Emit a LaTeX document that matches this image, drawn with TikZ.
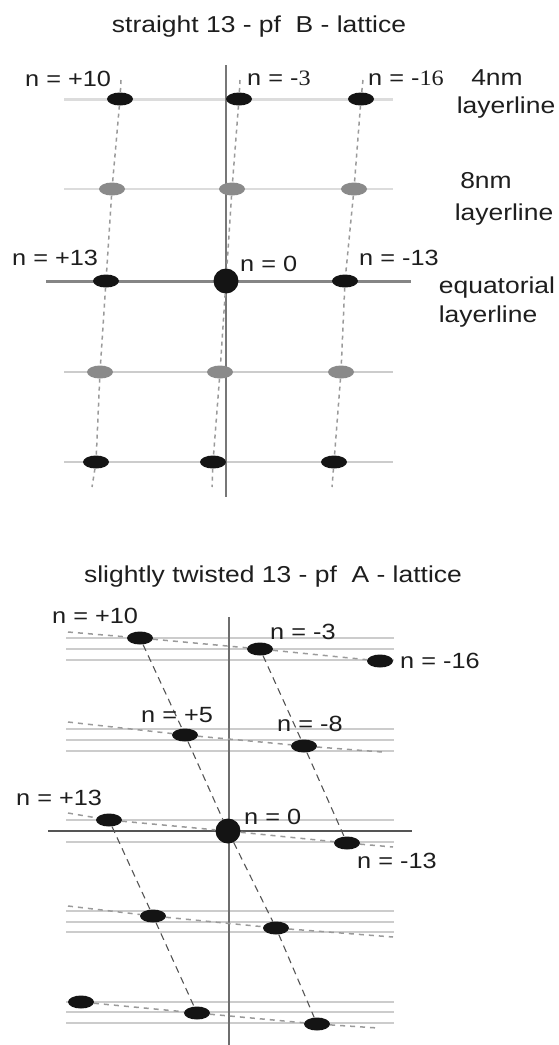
\documentclass[tikz,border=0pt]{standalone}
\usepackage{fontspec}
\setmainfont[FakeStretch=1.15]{Liberation Sans}
\newfontfamily\serifdig[FakeStretch=1.1]{Liberation Serif}
\usetikzlibrary{shapes.geometric}
\definecolor{txt}{HTML}{1E1E1E}
\definecolor{dotgrey}{HTML}{8A8A8A}
\definecolor{lightline}{HTML}{DCDCDC}
\definecolor{thinline}{HTML}{CCCCCC}
\definecolor{axisgrey}{HTML}{777777}
\definecolor{dashgrey}{HTML}{9A9A9A}
\definecolor{steepgrey}{HTML}{555555}
\begin{document}
\begin{tikzpicture}[x=1pt,y=-1pt,
  lbl/.style={anchor=base west, inner sep=0pt, text=txt, font=\fontsize{22}{26}\selectfont},
  rlbl/.style={anchor=base, inner sep=0pt, text=txt, font=\fontsize{23}{27}\selectfont},
  ttl/.style={anchor=base, inner sep=0pt, text=txt, font=\fontsize{23}{27}\selectfont},
  bdot/.style={ellipse, fill=black!92, draw=none, minimum width=26pt, minimum height=13pt, inner sep=0pt},
  gdot/.style={bdot, fill=dotgrey},
  bigdot/.style={circle, fill=black!92, draw=none, minimum size=25pt, inner sep=0pt},
  ll4/.style={draw=lightline, line width=3pt},
  ll8/.style={draw=lightline, line width=2.5pt},
  llthin/.style={draw=thinline, line width=1.5pt},
  llfine/.style={draw=thinline, line width=1.2pt},
  eqline/.style={draw=axisgrey!90, line width=3pt},
  eqline2/.style={draw=steepgrey, line width=2.2pt},
  axisline/.style={draw=axisgrey, line width=2.5pt},
  vdash/.style={draw=dashgrey, line width=1.5pt, dash pattern=on 4pt off 4pt},
  hdash/.style={draw=dashgrey, line width=1.5pt, dash pattern=on 5pt off 5pt},
  sdash/.style={draw=steepgrey, line width=1.1pt, dash pattern=on 7pt off 5pt}
]
\fill[white] (0,0) rectangle (558,1045);
\useasboundingbox (0,0) rectangle (558,1045);

% ================= top panel =================
\node[ttl] (title1) at (259,32) {straight 13 - pf\ \ B - lattice};

\draw[ll4] (64,99) -- (393,99);
\draw[ll8] (64,189) -- (393,189);
\draw[eqline] (46,281) -- (411,281);
\draw[llthin] (64,372) -- (393,372);
\draw[llthin] (64,462) -- (393,462);
\draw[axisline] (226,65) -- (226,497);

\node[bdot] (t11) at (120,99) {};
\node[bdot] (t21) at (239,99) {};
\node[bdot] (t31) at (361,99) {};
\node[gdot] (t12) at (112,189) {};
\node[gdot] (t22) at (232,189) {};
\node[gdot] (t32) at (354,189) {};
\node[bdot] (t13) at (106,281) {};
\node[bigdot] (t23) at (226,281) {};
\node[bdot] (t33) at (345,281) {};
\node[gdot] (t14) at (100,372) {};
\node[gdot] (t24) at (220,372) {};
\node[gdot] (t34) at (341,372) {};
\node[bdot] (t15) at (96,462) {};
\node[bdot] (t25) at (213,462) {};
\node[bdot] (t35) at (334,462) {};

\coordinate (t1top) at (121,80);
\coordinate (t2top) at (240,80);
\coordinate (t3top) at (363,80);
\coordinate (t1bot) at (92,487);
\coordinate (t2bot) at (212,487);
\coordinate (t3bot) at (332,487);

\draw[vdash] (t1top) -- (t11) -- (t12) -- (t13) -- (t14) -- (t15) -- (t1bot);
\draw[vdash] (t2top) -- (t21) -- (t22) -- (t23) -- (t24) -- (t25) -- (t2bot);
\draw[vdash] (t3top) -- (t31) -- (t32) -- (t33) -- (t34) -- (t35) -- (t3bot);

\node[lbl] (lt10) at (25,86) {n = +10};
\node[lbl] (lt3) at (247,85) {n = -{\serifdig 3}};
\node[lbl] (lt16) at (368,85) {n = -{\serifdig 16}};
\node[lbl] (lt13p) at (12,265) {n = +13};
\node[lbl] (lt0) at (240,271) {n = 0};
\node[lbl] (lt13m) at (359,265) {n = -13};

\node[rlbl] (r4a) at (497,85) {4nm};
\node[rlbl] (r4b) at (506,113) {layerline};
\node[rlbl] (r8a) at (486,188) {8nm};
\node[rlbl] (r8b) at (504,220) {layerline};
\node[rlbl] (rea) at (497,293) {equatorial};
\node[rlbl] (reb) at (488,322) {layerline};

% ================= bottom panel =================
\node[ttl] (title2) at (273,582) {slightly twisted 13 - pf\ \ A - lattice};

\foreach \yy in {638,649,660, 729,740,751, 820,842, 911,922,932, 1002,1012,1023}
  \draw[llfine] (66,\yy) -- (394,\yy);
\draw[eqline2] (48,831) -- (412,831);
\draw[axisline, draw=steepgrey!85] (229,617) -- (229,1045);

\node[bdot] (a1) at (140,638) {};
\node[bdot] (a2) at (260,649) {};
\node[bdot] (a3) at (380,661) {};
\node[bdot] (b1) at (185,735) {};
\node[bdot] (b2) at (304,746) {};
\node[bdot] (c1) at (109,820) {};
\node[bigdot] (c0) at (228,831) {};
\node[bdot] (c2) at (347,843) {};
\node[bdot] (d1) at (153,916) {};
\node[bdot] (d2) at (276,928) {};
\node[bdot] (e0) at (81,1002) {};
\node[bdot] (e1) at (197,1013) {};
\node[bdot] (e2) at (317,1024) {};

\coordinate (h1s) at (68,632);
\coordinate (h2s) at (68,722);
\coordinate (h2e) at (382,752);
\coordinate (h3s) at (68,813);
\coordinate (h3e) at (393,847);
\coordinate (h4s) at (68,906);
\coordinate (h4e) at (393,937);
\coordinate (h5e) at (378,1028);

\draw[hdash] (h1s) -- (a1) -- (a2) -- (a3);
\draw[hdash] (h2s) -- (b1) -- (b2) -- (h2e);
\draw[hdash] (h3s) -- (c1) -- (c0) -- (c2) -- (h3e);
\draw[hdash] (h4s) -- (d1) -- (d2) -- (h4e);
\draw[hdash] (e0) -- (e1) -- (e2) -- (h5e);

\draw[sdash] (a1) -- (b1) -- (c0) -- (d2) -- (e2);
\draw[sdash] (a2) -- (b2) -- (c2);
\draw[sdash] (c1) -- (d1) -- (e1);

\node[lbl] (lb10) at (52,623) {n = +10};
\node[lbl] (lb3) at (270,639) {n = -3};
\node[lbl] (lb16) at (400,668) {n = -16};
\node[lbl] (lb5) at (141,722) {n = +5};
\node[lbl] (lb8) at (277,731) {n = -8};
\node[lbl] (lb13p) at (16,805) {n = +13};
\node[lbl] (lb0) at (244,824) {n = 0};
\node[lbl] (lb13m) at (357,868) {n = -13};
\end{tikzpicture}
\end{document}
